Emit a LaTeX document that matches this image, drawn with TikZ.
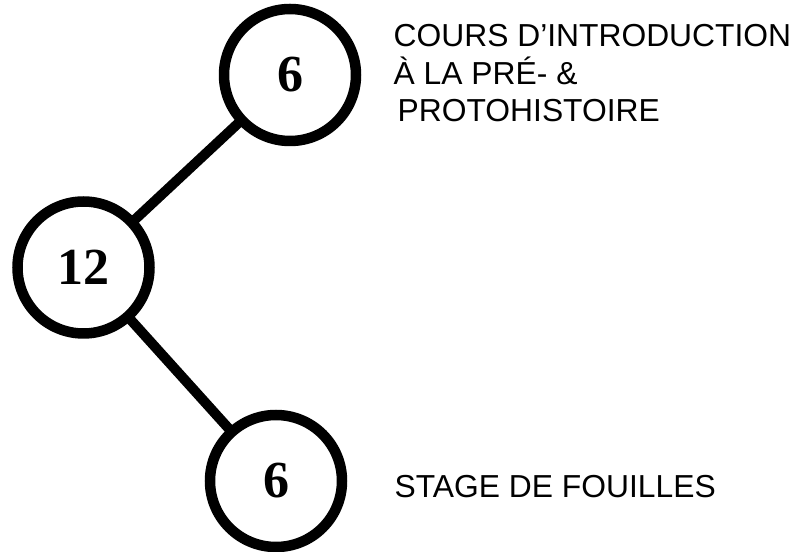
\documentclass[tikz,border=0pt]{standalone}
\usepackage{fontspec}
\setmainfont{Liberation Serif}
\newfontfamily\labelfont{Liberation Sans}
\usetikzlibrary{backgrounds}
\begin{document}
\begin{tikzpicture}[x=1pt,y=1pt,
  numcircle/.style={circle,draw=black,fill=white,line width=10.5pt,minimum size=132pt,inner sep=0pt,
    font=\fontsize{52}{52}\selectfont\bfseries},
  link/.style={line width=10pt,draw=black},
  lbl/.style={font=\labelfont\fontsize{31.8}{37.5}\selectfont,align=left,inner sep=0pt,anchor=base west}]
\useasboundingbox (0,0) rectangle (796,552);
\node[numcircle] (top) at (290,477) {6};
\node[numcircle] (mid) at (83.5,284.5) {12};
\node[numcircle] (bot) at (276,71) {6};
\begin{scope}[on background layer]
\draw[link] (mid.center) -- (top.center);
\draw[link] (mid.center) -- (bot.center);
\end{scope}
\node[lbl] (ltop) at (393.5,430.3) {COURS D’INTRODUCTION\\À LA PRÉ- \&\\\hspace*{4pt}PROTOHISTOIRE};
\node[lbl] (lbot) at (394.5,54) {STAGE DE FOUILLES};
\end{tikzpicture}
\end{document}
